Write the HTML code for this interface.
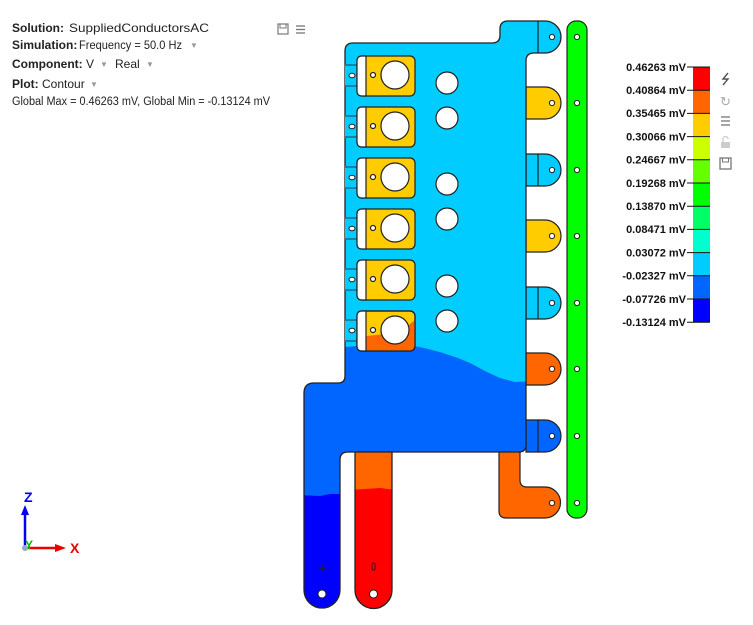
<!DOCTYPE html>
<html><head><meta charset="utf-8"><style>
body{margin:0;background:#fff;width:753px;height:620px;overflow:hidden;font-family:"Liberation Sans",Arial,sans-serif;}
</style></head><body>
<svg width="753" height="620" viewBox="0 0 753 620" xmlns="http://www.w3.org/2000/svg" font-family="Liberation Sans, Arial, sans-serif">
<!-- header text -->
<g font-size="12" fill="#222">
<text x="12" y="32"><tspan font-weight="bold">Solution:</tspan></text><text x="69" y="32" textLength="140" lengthAdjust="spacingAndGlyphs">SuppliedConductorsAC</text>
<text x="12" y="49"><tspan font-weight="bold">Simulation:</tspan></text><text x="79" y="49" textLength="103" lengthAdjust="spacingAndGlyphs">Frequency = 50.0 Hz</text><text x="190" y="48" fill="#999" font-size="8">&#9660;</text>
<text x="12" y="68"><tspan font-weight="bold">Component:</tspan> V</text><text x="100" y="67" fill="#999" font-size="8">&#9660;</text><text x="115" y="68">Real</text><text x="146" y="67" fill="#999" font-size="8">&#9660;</text>
<text x="12" y="88"><tspan font-weight="bold">Plot:</tspan> Contour</text><text x="90" y="87" fill="#999" font-size="8">&#9660;</text>
<text x="12" y="105" font-size="11.5" textLength="258" lengthAdjust="spacingAndGlyphs">Global Max = 0.46263 mV, Global Min = -0.13124 mV</text>
</g>
<rect x="278" y="24" width="10" height="10" fill="none" stroke="#777" stroke-width="1.2"/>
<rect x="280" y="24" width="6" height="4" fill="none" stroke="#777"/>
<g stroke="#777" stroke-width="1.3"><line x1="296" y1="26" x2="305" y2="26"/><line x1="296" y1="29.5" x2="305" y2="29.5"/><line x1="296" y1="33" x2="305" y2="33"/></g>

<defs>
<clipPath id="body"><path d="M353 43 H492 Q500 43 500 35 V29 Q500 21 508 21 H545 A16 16 0 0 1 545 53 H534 Q526 53 526 61 V445 Q526 452 519 452 H348 Q340 452 340 460 V590 A18 18 0 0 1 304 590 V393 Q304 383 314 383 H338 Q345 383 345 376 V51 Q345 43 353 43 Z"/></clipPath>
<clipPath id="leg2"><path d="M355 452 H392 V590 A18.5 18.5 0 0 1 355 590 Z"/></clipPath>
</defs>

<!-- right tabs -->
<g stroke="#222" stroke-width="1.2">
<path d="M526 87 H545 A16 16 0 0 1 545 119 H526 Z" fill="#ffcc00"/>
<path d="M526 154 H545 A16 16 0 0 1 545 186 H526 Z" fill="#00ccff"/>
<path d="M526 220 H545 A16 16 0 0 1 545 252 H526 Z" fill="#ffcc00"/>
<path d="M526 287 H545 A16 16 0 0 1 545 319 H526 Z" fill="#00ccff"/>
<path d="M526 353 H545 A16 16 0 0 1 545 385 H526 Z" fill="#ff6600"/>
<path d="M526 420 H545 A16 16 0 0 1 545 452 H526 Z" fill="#0066ff"/>
<!-- right L piece -->
<path d="M499 450 H520 V480 Q520 487 527 487 H545 A15.5 15.5 0 0 1 545 518 H506 Q499 518 499 511 Z" fill="#ff6600"/>
</g>

<!-- main body -->
<g clip-path="url(#body)">
<rect x="300" y="15" width="270" height="600" fill="#00ccff"/>
<path d="M300 348 L345 347 L370 345 L400 344 L420 347 L440 352 L458 358 L470 363 L485 371 L500 378 L515 382 L540 381 V620 H300 Z" fill="#0066ff"/>
<path d="M300 495 L320 496 L330 494 L345 494 V620 H300 Z" fill="#0000ff"/>
</g>
<path d="M353 43 H492 Q500 43 500 35 V29 Q500 21 508 21 H545 A16 16 0 0 1 545 53 H534 Q526 53 526 61 V445 Q526 452 519 452 H348 Q340 452 340 460 V590 A18 18 0 0 1 304 590 V393 Q304 383 314 383 H338 Q345 383 345 376 V51 Q345 43 353 43 Z" fill="none" stroke="#222" stroke-width="1.3"/>
<g stroke="#222" stroke-width="1.2"><line x1="538" y1="21" x2="538" y2="53"/><line x1="538" y1="154" x2="538" y2="186"/><line x1="538" y1="287" x2="538" y2="319"/><line x1="538" y1="420" x2="538" y2="452"/></g>

<!-- leg 2 -->
<g clip-path="url(#leg2)">
<rect x="350" y="450" width="50" height="170" fill="#ff6600"/>
<path d="M350 490 L365 489 L380 488 L395 490 V620 H350 Z" fill="#ff0000"/>
</g>
<path d="M355 452 H392 V590 A18.5 18.5 0 0 1 355 590 Z" fill="none" stroke="#222" stroke-width="1.3"/>
<rect x="372" y="563" width="3" height="7" rx="1.5" fill="none" stroke="#222"/>
<path d="M318 568 h8 M322 564 v8" stroke="#222" stroke-width="1.2"/>
<circle cx="322" cy="594" r="4" fill="#fff" stroke="#222"/>
<circle cx="373.5" cy="594" r="4" fill="#fff" stroke="#222"/>

<!-- green bar -->
<rect x="567" y="21" width="20" height="497" rx="9" fill="#00ff00" stroke="#222" stroke-width="1.2"/>
<g fill="#fff" stroke="#222" stroke-width="1">
<circle cx="577" cy="37" r="2.6"/><circle cx="577" cy="103" r="2.6"/><circle cx="577" cy="170" r="2.6"/><circle cx="577" cy="236" r="2.6"/><circle cx="577" cy="303" r="2.6"/><circle cx="577" cy="369" r="2.6"/><circle cx="577" cy="436" r="2.6"/><circle cx="577" cy="503" r="2.6"/>
<circle cx="552" cy="37" r="2.6"/><circle cx="552" cy="103" r="2.6"/><circle cx="552" cy="170" r="2.6"/><circle cx="552" cy="236" r="2.6"/><circle cx="552" cy="303" r="2.6"/><circle cx="552" cy="369" r="2.6"/><circle cx="552" cy="436" r="2.6"/><circle cx="552" cy="503" r="2.6"/>
</g>

<!-- body circles -->
<g fill="#fff" stroke="#222" stroke-width="1.2">
<circle cx="447" cy="83" r="11"/><circle cx="447" cy="118" r="11"/><circle cx="447" cy="184" r="11"/><circle cx="447" cy="219" r="11"/><circle cx="447" cy="286" r="11"/><circle cx="447" cy="321" r="11"/>
</g>

<!-- connector boxes -->
<defs>
<g id="box">
<rect x="345" y="8" width="12" height="23" fill="#00ccff"/>
<line x1="345" y1="9" x2="357" y2="9" stroke="#1a6a8a" stroke-width="1.5"/>
<line x1="345" y1="30" x2="357" y2="30" stroke="#1a6a8a" stroke-width="1.5"/>
<ellipse cx="352" cy="19.5" rx="3" ry="2.3" fill="#fff" stroke="#222"/>
<rect x="357" y="0" width="58" height="40" rx="5" fill="#ffcc00" stroke="#222" stroke-width="1.2"/>
</g>
</defs>
<g>
<use href="#box" y="56"/><use href="#box" y="107"/><use href="#box" y="158"/><use href="#box" y="209"/><use href="#box" y="260"/><use href="#box" y="311"/>
</g>
<clipPath id="b6"><rect x="357" y="311" width="58" height="40" rx="5"/></clipPath>
<path d="M357 337 L385 334 L405 328 L415 320 V352 H357 Z" fill="#ff6600" clip-path="url(#b6)"/>
<rect x="357" y="311" width="58" height="40" rx="5" fill="none" stroke="#222" stroke-width="1.2"/>
<g fill="#fff" stroke="#222" stroke-width="1.2">
<path d="M366 56 V96 H362 Q357 96 357 91 V61 Q357 56 362 56 Z"/><path d="M366 107 V147 H362 Q357 147 357 142 V112 Q357 107 362 107 Z"/><path d="M366 158 V198 H362 Q357 198 357 193 V163 Q357 158 362 158 Z"/><path d="M366 209 V249 H362 Q357 249 357 244 V214 Q357 209 362 209 Z"/><path d="M366 260 V300 H362 Q357 300 357 295 V265 Q357 260 362 260 Z"/><path d="M366 311 V351 H362 Q357 351 357 346 V316 Q357 311 362 311 Z"/>
<circle cx="395" cy="75" r="14"/><circle cx="395" cy="126" r="14"/><circle cx="395" cy="177" r="14"/><circle cx="395" cy="228" r="14"/><circle cx="395" cy="279" r="14"/><circle cx="395" cy="330" r="14"/>
<circle cx="373" cy="75" r="2.5"/><circle cx="373" cy="126" r="2.5"/><circle cx="373" cy="177" r="2.5"/><circle cx="373" cy="228" r="2.5"/><circle cx="373" cy="279" r="2.5"/><circle cx="373" cy="330" r="2.5"/>
</g>

<!-- legend -->
<g>
<rect x="693" y="67" width="17" height="23.2" fill="#ff0000"/>
<rect x="693" y="90.2" width="17" height="23.2" fill="#ff6600"/>
<rect x="693" y="113.4" width="17" height="23.2" fill="#ffcc00"/>
<rect x="693" y="136.6" width="17" height="23.2" fill="#ccff00"/>
<rect x="693" y="159.8" width="17" height="23.2" fill="#66ff00"/>
<rect x="693" y="183" width="17" height="23.2" fill="#00ff00"/>
<rect x="693" y="206.2" width="17" height="23.2" fill="#00ff66"/>
<rect x="693" y="229.4" width="17" height="23.2" fill="#00ffcc"/>
<rect x="693" y="252.6" width="17" height="23.2" fill="#00ccff"/>
<rect x="693" y="275.8" width="17" height="23.2" fill="#0066ff"/>
<rect x="693" y="299" width="17" height="23.2" fill="#0000ff"/>
</g>
<g stroke="#111" stroke-width="1">
<line x1="687" y1="67" x2="710" y2="67"/><line x1="687" y1="90.2" x2="710" y2="90.2"/><line x1="687" y1="113.4" x2="710" y2="113.4"/><line x1="687" y1="136.6" x2="710" y2="136.6"/><line x1="687" y1="159.8" x2="710" y2="159.8"/><line x1="687" y1="183" x2="710" y2="183"/><line x1="687" y1="206.2" x2="710" y2="206.2"/><line x1="687" y1="229.4" x2="710" y2="229.4"/><line x1="687" y1="252.6" x2="710" y2="252.6"/><line x1="687" y1="275.8" x2="710" y2="275.8"/><line x1="687" y1="299" x2="710" y2="299"/><line x1="687" y1="322.2" x2="710" y2="322.2"/>
</g>
<g font-size="11" font-weight="bold" fill="#111" text-anchor="end">
<text x="686" y="71">0.46263 mV</text><text x="686" y="94">0.40864 mV</text><text x="686" y="117">0.35465 mV</text><text x="686" y="140.5">0.30066 mV</text><text x="686" y="163.5">0.24667 mV</text><text x="686" y="187">0.19268 mV</text><text x="686" y="210">0.13870 mV</text><text x="686" y="233">0.08471 mV</text><text x="686" y="256.5">0.03072 mV</text><text x="686" y="279.5">-0.02327 mV</text><text x="686" y="303">-0.07726 mV</text><text x="686" y="326">-0.13124 mV</text>
</g>
<!-- legend icons -->
<path d="M728 73 L723 79 L728 79 L723 85" fill="none" stroke="#555" stroke-width="1.4"/>
<text x="720" y="106" font-size="13" fill="#aaa">&#8635;</text>
<g stroke="#777" stroke-width="1.3"><line x1="721" y1="117" x2="730" y2="117"/><line x1="721" y1="121" x2="730" y2="121"/><line x1="721" y1="125" x2="730" y2="125"/></g>
<rect x="721" y="142" width="9" height="6" fill="#ccc"/><path d="M723 142 V139 A2.5 2.5 0 0 1 728 139" fill="none" stroke="#ccc" stroke-width="1.3"/>
<rect x="720" y="158" width="11" height="11" fill="none" stroke="#777" stroke-width="1.3"/><rect x="722.5" y="158" width="6" height="4" fill="none" stroke="#777"/>

<!-- axis triad -->
<line x1="25" y1="548" x2="25" y2="513" stroke="#0000ee" stroke-width="2.5"/>
<path d="M21 515 L25 505 L29 515 Z" fill="#0000ee"/>
<text x="24" y="502" font-size="14" font-weight="bold" fill="#0000ee">Z</text>
<line x1="25" y1="548" x2="58" y2="548" stroke="#ee0000" stroke-width="2.5"/>
<path d="M55 544 L66 548 L55 552 Z" fill="#ee0000"/>
<text x="70" y="553" font-size="14" font-weight="bold" fill="#ee0000">X</text>
<text x="25" y="549" font-size="12" font-weight="bold" fill="#00bb00">Y</text>
<circle cx="25" cy="548" r="3" fill="#9aa8b8"/>
</svg>
</body></html>
